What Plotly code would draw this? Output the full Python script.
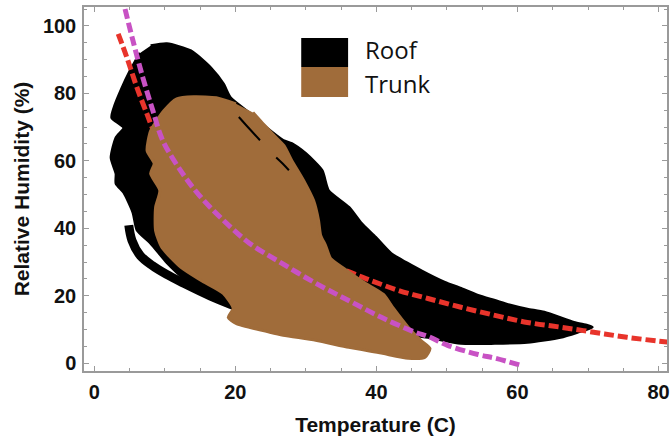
import plotly.graph_objects as go

# ---- data ----
# Roof (black) cloud outline: temperature (C), relative humidity (%)
roof_x = [8.0, 10.3, 13.7, 16.5, 18.3, 19.3, 22.1, 24.4, 26.8, 28.0, 30.0, 32.3, 33.2, 36.1,
          37.9, 39.9, 42.1, 46.3, 49.7, 52.0, 54.4, 56.8, 59.0, 61.4, 63.8, 68.0, 69.9, 70.6,
          68.5, 66.1, 61.4, 56.8, 52.0, 47.3, 43.1, 36.1, 29.0, 22.0, 19.2, 15.6, 12.7, 10.3,
          8.0, 6.1, 5.5, 4.2, 3.1, 3.1, 2.4, 3.1, 4.2, 2.5, 2.8, 3.9, 5.1, 6.5]
roof_y = [94.1, 94.7, 92.6, 87.6, 82.8, 78.7, 74.0, 69.8, 66.0, 65.1, 62.1, 57.1, 51.2, 46.2,
          41.4, 37.3, 32.5, 27.5, 24.0, 22.2, 20.1, 18.6, 17.2, 16.0, 15.1, 12.1, 11.2, 10.7,
          9.2, 7.7, 6.2, 5.9, 5.9, 7.7, 8.9, 11.2, 13.3, 16.0, 18.0, 21.2, 25.2, 29.9,
          35.6, 39.4, 44.7, 50.6, 53.3, 56.2, 60.9, 66.9, 69.8, 72.8, 75.7, 81.4, 86.7, 92.0]
# Roof lower-left loop (thin band)
roof_loop_x = [4.9, 5.35, 6.5, 8.2, 10.2, 12.7, 16.5, 19.3, 21.7]
roof_loop_y = [40.9, 36.4, 32.0, 29.0, 26.4, 23.7, 19.9, 17.5, 15.7]
# Roof streaks seen on top of the trunk cloud
roof_streak1_x = [20.5, 22.0, 23.5]
roof_streak1_y = [73.0, 69.5, 66.1]
roof_streak2_x = [25.8, 26.7, 27.6]
roof_streak2_y = [61.0, 59.2, 57.2]

# Trunk (brown) cloud outline
trunk_x = [22.5, 23.8, 25.5, 26.9, 28.0, 29.7, 31.1, 31.8, 32.1, 32.8, 33.5, 35.4, 38.2, 41.0,
           42.4, 44.5, 46.3, 47.6, 46.9, 44.5, 40.7, 36.1, 31.4, 26.8, 24.9, 20.1, 19.0, 19.7,
           18.3, 15.1, 12.3, 9.6, 8.7, 8.7, 9.3, 8.0, 8.5, 7.5, 8.0, 9.9, 11.7, 14.1, 17.3, 20.1]
trunk_y = [74.3, 71.3, 67.5, 64.5, 60.1, 54.1, 48.2, 42.3, 37.9, 34.9, 31.1, 28.1, 24.0, 20.4,
           16.3, 10.7, 6.8, 4.4, 1.8, 1.5, 3.0, 4.7, 6.8, 8.3, 9.2, 11.8, 13.6, 16.3,
           20.7, 24.6, 28.4, 34.3, 39.3, 46.2, 51.2, 56.2, 59.2, 63.0, 68.9, 74.9, 78.4, 79.0, 78.7, 76.9]

# Red dashed fit
red_x = [3.4, 4.65, 6.06, 7.46, 8.31, 10, 12, 14, 16, 18, 20, 23, 26, 30, 34.4, 38.5,
         43.1, 47.3, 52.0, 56.8, 61.4, 66.1, 70.8, 75.5, 81.5]
red_y = [97.6, 90.5, 81.7, 74.0, 69.5, 63.0, 57.0, 52.0, 47.8, 44.2, 41.0, 37.0, 33.8, 30.8,
         28.4, 25.1, 21.6, 19.2, 16.6, 14.2, 12.1, 10.7, 9.2, 7.7, 6.2]

# Magenta dashed fit
mag_x = [4.37, 5.49, 6.90, 8.31, 9.72, 12.54, 14.93, 18.0, 22.0, 26.62, 31.41, 36.06,
         40.70, 45.49, 47.3, 50.1, 54.4, 56.8, 60.3]
mag_y = [105.0, 95.6, 84.6, 74.9, 66.0, 56.2, 49.7, 43.0, 35.6, 29.6, 23.7, 18.6,
         13.6, 9.2, 8.0, 5.3, 2.6, 1.5, -0.5]

series_names = ["Roof", "Trunk"]
x_ticks = [0, 20, 40, 60, 80]
y_ticks = [0, 20, 40, 60, 80, 100]

ROOF_C = "#000000"
TRUNK_C = "#a06c3a"
RED_C = "#e8342b"
MAG_C = "#c852c4"

fig = go.Figure()
fig.add_trace(go.Scatter(x=roof_x, y=roof_y, mode="lines", fill="toself", fillcolor=ROOF_C,
                         line=dict(color=ROOF_C, width=3, shape="spline", smoothing=0.6),
                         name=series_names[0], showlegend=False, hoverinfo="skip"))
fig.add_trace(go.Scatter(x=roof_loop_x, y=roof_loop_y, mode="lines",
                         line=dict(color=ROOF_C, width=9, shape="spline"),
                         showlegend=False, hoverinfo="skip"))
fig.add_trace(go.Scatter(x=red_x, y=red_y, mode="lines",
                         line=dict(color=RED_C, width=5, dash="10px,4px", shape="spline"),
                         showlegend=False, hoverinfo="skip"))
fig.add_trace(go.Scatter(x=trunk_x, y=trunk_y, mode="lines", fill="toself", fillcolor=TRUNK_C,
                         line=dict(color=TRUNK_C, width=3, shape="spline", smoothing=0.6),
                         name=series_names[1], showlegend=False, hoverinfo="skip"))
for sx, sy in [(roof_streak1_x, roof_streak1_y), (roof_streak2_x, roof_streak2_y)]:
    fig.add_trace(go.Scatter(x=sx, y=sy, mode="lines",
                             line=dict(color=ROOF_C, width=2, shape="spline"),
                             showlegend=False, hoverinfo="skip"))
fig.add_trace(go.Scatter(x=mag_x, y=mag_y, mode="lines",
                         line=dict(color=MAG_C, width=5, dash="10px,4px", shape="spline"),
                         showlegend=False, hoverinfo="skip"))

# custom legend (paper coordinates)
sw_x0, sw_x1 = 0.3726, 0.4530
fig.add_shape(type="rect", xref="paper", yref="paper", x0=sw_x0, x1=sw_x1, y0=0.8352, y1=0.9148,
              fillcolor=ROOF_C, line=dict(width=0))
fig.add_shape(type="rect", xref="paper", yref="paper", x0=sw_x0, x1=sw_x1, y0=0.7527, y1=0.8352,
              fillcolor=TRUNK_C, line=dict(width=0))
for name, yy in zip(series_names, [0.882, 0.790]):
    fig.add_annotation(text=name, xref="paper", yref="paper", x=0.478, y=yy, xanchor="left",
                       yanchor="middle", showarrow=False,
                       font=dict(family="Open Sans", size=24, color="#111"))

axis_common = dict(showgrid=False, zeroline=False, showline=True, linecolor="#9a9a9a", linewidth=1.5,
                   mirror="allticks", ticks="inside", ticklen=5, tickcolor="#9a9a9a", tickwidth=1,
                   minor=dict(dtick=5, ticks="inside", ticklen=3, tickcolor="#9a9a9a"),
                   tickfont=dict(family="Liberation Sans", size=20, color="#111"))
title_font = dict(family="Liberation Sans", size=21, color="#111")

fig.update_xaxes(range=[-1.45, 81.2], tickvals=x_ticks, ticktext=[f"<b>{v}</b>" for v in x_ticks],
                 title=dict(text="<b>Temperature (C)</b>", font=title_font, standoff=16),
                 ticklabelstandoff=2, **axis_common)
fig.update_yaxes(range=[-2.3, 105.6], tickvals=y_ticks, ticktext=[f"<b>{v}</b>" for v in y_ticks],
                 title=dict(text="<b>Relative Humidity (%)</b>", font=title_font, standoff=8),
                 ticklabelstandoff=2, **axis_common)

fig.update_layout(width=671, height=440, margin=dict(l=84, r=2, t=7, b=69),
                  paper_bgcolor="white", plot_bgcolor="white")

fig.write_html("out.html")
